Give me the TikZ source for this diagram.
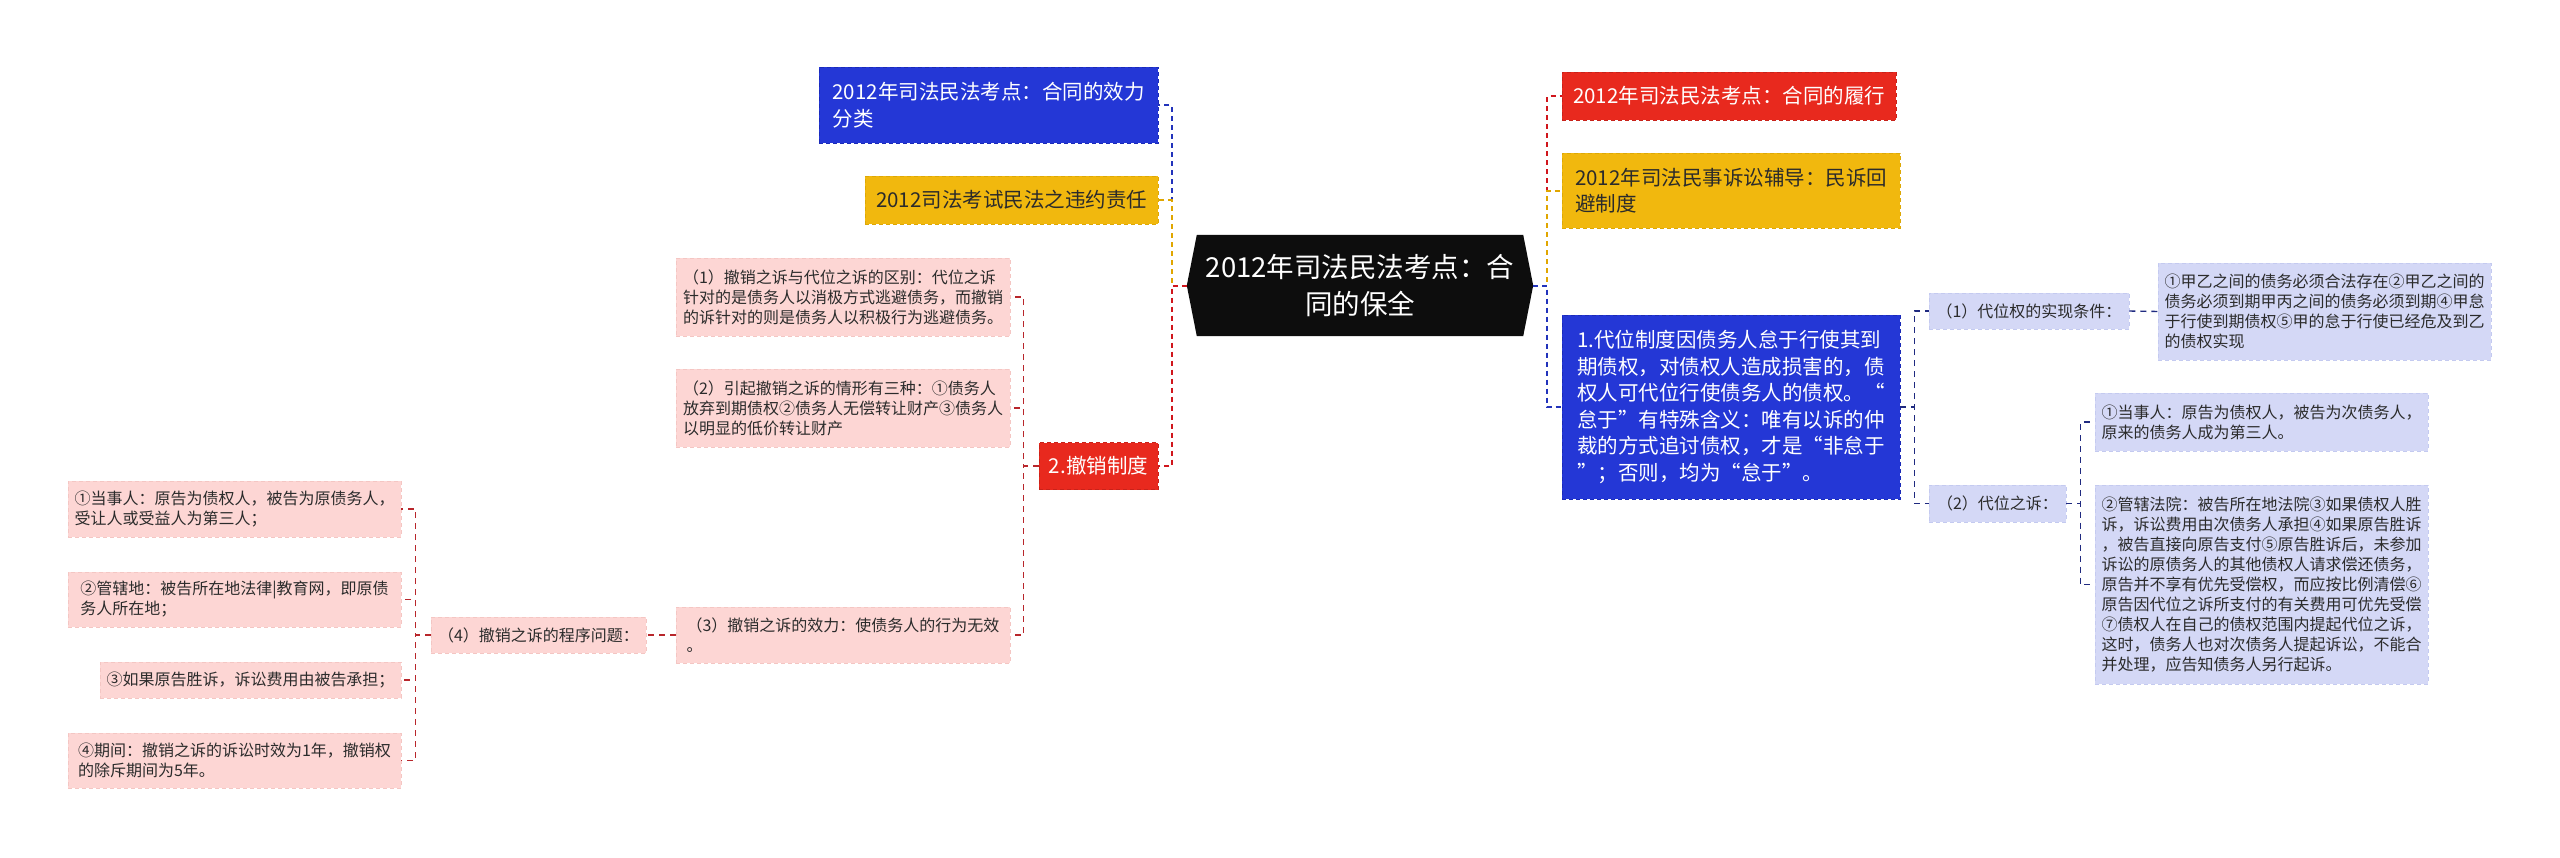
\documentclass[tikz,border=0pt]{standalone}
\usepackage{fontspec}
\setmainfont{Noto Sans CJK SC}
\usetikzlibrary{backgrounds}
\definecolor{bluefill}{HTML}{2437D6}
\definecolor{blueedge}{HTML}{1B2BB8}
\definecolor{redfill}{HTML}{E8291E}
\definecolor{rededge}{HTML}{C8221A}
\definecolor{yelfill}{HTML}{F1B80E}
\definecolor{yeledge}{HTML}{DDA806}
\definecolor{pinkfill}{HTML}{FDD6D4}
\definecolor{pinkedge}{HTML}{F4C6C3}
\definecolor{lavfill}{HTML}{D4D8F6}
\definecolor{lavedge}{HTML}{C4CAF0}
\definecolor{txt}{HTML}{2B2B2B}
\definecolor{cblue}{HTML}{2233BB}
\definecolor{cyel}{HTML}{E0A600}
\definecolor{cred}{HTML}{D0161C}
\definecolor{cpink}{HTML}{B8262B}
\definecolor{clav}{HTML}{1F2A80}
\tikzset{
  box/.style={rectangle, inner xsep=4pt, inner ysep=0pt, line width=0.7pt, dash pattern=on 4pt off 3pt},
  bigbox/.style={box, font=\fontsize{20.5}{26.5}\selectfont, align=left},
  smallbox/.style={box, font=\fontsize{16}{20}\selectfont, align=left, text=txt},
  bluebox/.style={bigbox, fill=bluefill, draw=blueedge, text=white},
  redbox/.style={bigbox, fill=redfill, draw=rededge, text=white},
  yelbox/.style={bigbox, fill=yelfill, draw=yeledge, text=txt},
  pinkbox/.style={smallbox, fill=pinkfill, draw=pinkedge},
  lavbox/.style={smallbox, fill=lavfill, draw=lavedge},
  sz/.style 2 args={minimum width=#1pt, minimum height=#2pt},
  mainconn/.style={line width=2pt, dash pattern=on 5pt off 4pt},
  subconn/.style={line width=1.4pt, dash pattern=on 6pt off 5pt},
}
\begin{document}
\begin{tikzpicture}[x=1pt,y=-1pt]
\useasboundingbox (0,0) rectangle (2560,857);

% centre
\node[font=\fontsize{27.5}{37}\selectfont, text=white, align=center, inner sep=0pt, sz={346}{101}] (C) at (1360,285.5) {2012年司法民法考点：合\\同的保全};
\begin{scope}[on background layer]
  \fill[white] (0,0) rectangle (2560,857);
  \fill[black!95] ([xshift=10pt]C.north west) -- ([xshift=-10pt]C.north east) -- (C.east)
     -- ([xshift=-10pt]C.south east) -- ([xshift=10pt]C.south west) -- (C.west) -- cycle;
\end{scope}

% left main branches
\node[bluebox, sz={339}{76}] (B1) at (988.5,105) {2012年司法民法考点：合同的效力\\分类};
\node[yelbox, align=center, sz={293}{48}] (Y1) at (1011.5,200) {2012司法考试民法之违约责任};
\node[redbox, align=center, sz={119}{47}] (R2) at (1098.5,466) {2.撤销制度};

% right main branches
\node[redbox, align=center, sz={334}{48}] (R1) at (1729,96) {2012年司法民法考点：合同的履行};
\node[yelbox, sz={338}{75}] (Y2) at (1731,190.5) {2012年司法民事诉讼辅导：民诉回\\避制度};
\node[bluebox, sz={338}{184}] (B2) at (1731,407) {1.代位制度因债务人怠于行使其到\\期债权，对债权人造成损害的，债\\权人可代位行使债务人的债权。“\\怠于”有特殊含义：唯有以诉的仲\\裁的方式追讨债权，才是“非怠于\\”；否则，均为“怠于”。};

% pink subtree
\node[pinkbox, sz={334}{78}] (L1) at (843,297) {（1）撤销之诉与代位之诉的区别：代位之诉\\针对的是债务人以消极方式逃避债务，而撤销\\的诉针对的则是债务人以积极行为逃避债务。};
\node[pinkbox, sz={334}{78}] (L2) at (843,408) {（2）引起撤销之诉的情形有三种：①债务人\\放弃到期债权②债务人无偿转让财产③债务人\\以明显的低价转让财产};
\node[pinkbox, sz={334}{56}] (L3) at (843,635) {（3）撤销之诉的效力：使债务人的行为无效\\。};
\node[pinkbox, align=center, sz={215}{36}] (P4) at (538.5,635) {（4）撤销之诉的程序问题：};
\node[pinkbox, sz={333}{56}] (M1) at (234.5,509) {①当事人：原告为债权人，被告为原债务人，\\受让人或受益人为第三人；};
\node[pinkbox, sz={333}{55}] (M2) at (234.5,599.5) {②管辖地：被告所在地法律|教育网，即原债\\务人所在地；};
\node[pinkbox, align=center, sz={301}{36}] (M3) at (250.5,680) {③如果原告胜诉，诉讼费用由被告承担；};
\node[pinkbox, sz={333}{55}] (M4) at (234.5,760.5) {④期间：撤销之诉的诉讼时效为1年，撤销权\\的除斥期间为5年。};

% lavender subtree
\node[lavbox, align=center, sz={200}{36}] (P1) at (2029,311) {（1）代位权的实现条件：};
\node[lavbox, sz={333}{97}] (Q1) at (2324.5,311.5) {①甲乙之间的债务必须合法存在②甲乙之间的\\债务必须到期甲丙之间的债务必须到期④甲怠\\于行使到期债权⑤甲的怠于行使已经危及到乙\\的债权实现};
\node[lavbox, align=center, sz={137}{37}] (P2) at (1997.5,503.5) {（2）代位之诉：};
\node[lavbox, sz={333}{58}] (S1) at (2261.5,422) {①当事人：原告为债权人，被告为次债务人，\\原来的债务人成为第三人。};
\node[lavbox, sz={333}{199}] (S2) at (2261.5,584.5) {②管辖法院：被告所在地法院③如果债权人胜\\诉，诉讼费用由次债务人承担④如果原告胜诉\\，被告直接向原告支付⑤原告胜诉后，未参加\\诉讼的原债务人的其他债权人请求偿还债务，\\原告并不享有优先受偿权，而应按比例清偿⑥\\原告因代位之诉所支付的有关费用可优先受偿\\⑦债权人在自己的债权范围内提起代位之诉，\\这时，债务人也对次债务人提起诉讼，不能合\\并处理，应告知债务人另行起诉。};

% main connectors, left
\draw[mainconn, cblue] (C.west) -- ++(-15,0) |- (B1.east);
\draw[mainconn, cyel] (C.west) -- ++(-15,0) |- (Y1.east);
\draw[mainconn, cred] (C.west) -- ++(-15,0) |- (R2.east);
% main connectors, right
\draw[mainconn, cred] (C.east) -- ++(14,0) |- (R1.west);
\draw[mainconn, cyel] (C.east) -- ++(14,0) |- (Y2.west);
\draw[mainconn, cblue] (C.east) -- ++(14,0) |- (B2.west);

% pink subtree connectors
\draw[subconn, cpink] (R2.west) -- ++(-15,0) |- (L1.east);
\draw[subconn, cpink] (R2.west) -- ++(-15,0) |- (L2.east);
\draw[subconn, cpink] (R2.west) -- ++(-15,0) |- (L3.east);
\draw[subconn, cpink] (L3.west) -- (P4.east);
\draw[subconn, cpink] (P4.west) -- ++(-15,0) |- (M1.east);
\draw[subconn, cpink] (P4.west) -- ++(-15,0) |- (M2.east);
\draw[subconn, cpink] (P4.west) -- ++(-15,0) |- (M3.east);
\draw[subconn, cpink] (P4.west) -- ++(-15,0) |- (M4.east);

% lavender subtree connectors
\draw[subconn, clav] (B2.east) -- ++(14,0) |- (P1.west);
\draw[subconn, clav] (B2.east) -- ++(14,0) |- (P2.west);
\draw[subconn, clav] (P1.east) -- (Q1.west);
\draw[subconn, clav] (P2.east) -- ++(14,0) |- (S1.west);
\draw[subconn, clav] (P2.east) -- ++(14,0) |- (S2.west);
\end{tikzpicture}
\end{document}
